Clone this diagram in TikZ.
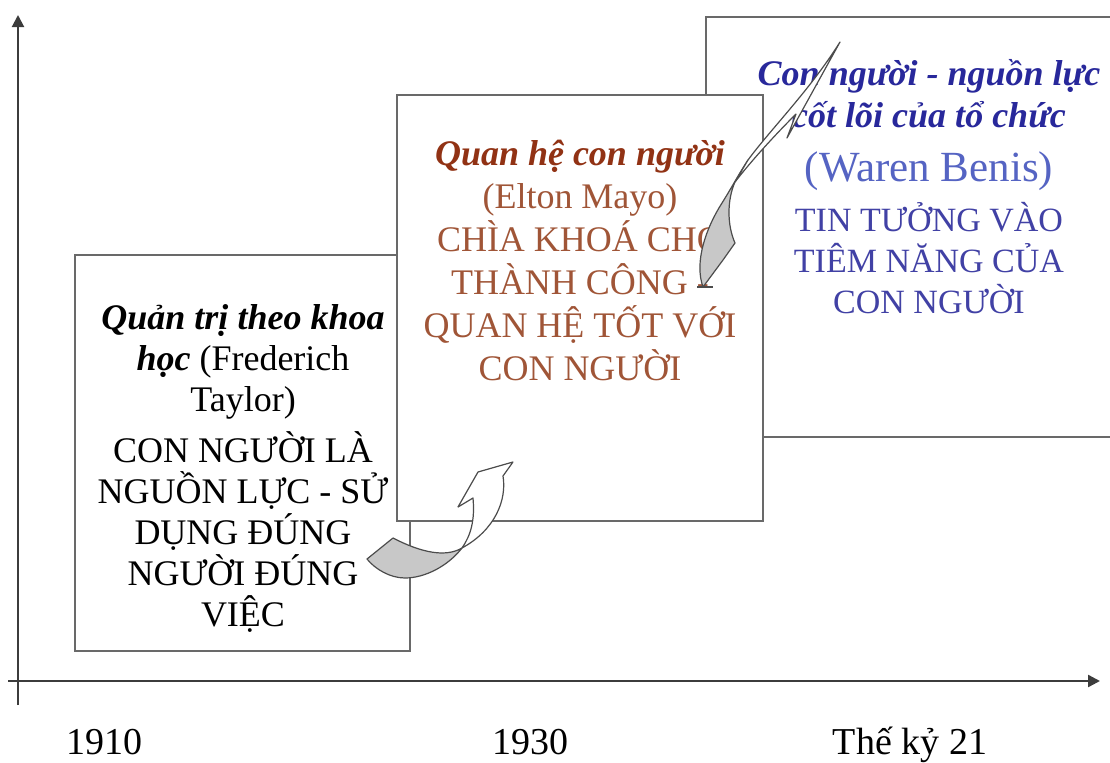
\documentclass[tikz,border=0pt]{standalone}
\usepackage{fontspec}
\setmainfont{Liberation Serif}
\usetikzlibrary{arrows.meta}
\definecolor{framegray}{RGB}{105,105,105}
\definecolor{axisgray}{RGB}{60,60,60}
\definecolor{twistgray}{RGB}{200,200,200}
\definecolor{mayotitle}{RGB}{145,50,20}
\definecolor{mayobody}{RGB}{160,85,55}
\definecolor{benistitle}{RGB}{40,40,155}
\definecolor{benisbody}{RGB}{65,65,165}
\definecolor{benisname}{RGB}{85,100,195}

\tikzset{
  period/.style={draw=framegray,line width=0.75pt,fill=white},
  idea/.style={align=center,inner sep=0pt,anchor=base},
  year/.style={inner sep=0pt,anchor=base,font=\fontsize{19}{22}\selectfont},
  twist/.style={draw=black!70,line width=0.6pt,line join=round},
}

\begin{document}
\begin{tikzpicture}[x=0.5pt,y=-0.5pt]
\useasboundingbox (0,0) rectangle (1110,762);
\clip (0,0) rectangle (1110,762);
% time axis
\coordinate (origin) at (18,705);
\coordinate (ytop) at (18,15);
\coordinate (xleft) at (8,681);
\coordinate (xright) at (1100,681);
\draw[-{Triangle[length=6pt,width=6pt]},axisgray,line width=1pt] (origin) -- (ytop);
\draw[-{Triangle[length=6pt,width=6pt]},axisgray,line width=1.2pt] (xleft) -- (xright);
% periods, the later one lies on top
\draw[period] (706,17) rectangle (1160,437);
\draw[period] (75,255) rectangle (410,651);
\draw[period] (397,95) rectangle (763,521);
% texts (anchored at the baseline of their last line)
\node[idea,font=\fontsize{18}{20.5}\selectfont] (taylor) at (243,626)
  {\textbf{\textit{Quản trị theo khoa}}\\\textbf{\textit{học}} (Frederich\\Taylor)\\[5pt]CON NGƯỜI LÀ\\NGUỒN LỰC - SỬ\\DỤNG ĐÚNG\\NGƯỜI ĐÚNG\\VIỆC};
\node[idea,font=\fontsize{18}{21.5}\selectfont,text=mayobody] (mayo) at (580,380)
  {\textcolor{mayotitle}{\textbf{\textit{Quan hệ con người}}}\\(Elton Mayo)\\CHÌA KHOÁ CHO\\THÀNH CÔNG -\\QUAN HỆ TỐT VỚI\\CON NGƯỜI};
\node[idea,font=\fontsize{17}{20.5}\selectfont,text=benisbody] (benis) at (929,313)
  {\textcolor{benistitle}{\fontsize{18}{21}\selectfont\textbf{\textit{Con người - nguồn lực}}}\\[0.5pt]
   \textcolor{benistitle}{\fontsize{18}{21}\selectfont\textbf{\textit{cốt lõi của tổ chức}}}\\[6.5pt]
   \textcolor{benisname}{\fontsize{21.5}{24}\selectfont(Waren Benis)}\\[4.5pt]
   TIN TƯỞNG VÀO\\TIÊM NĂNG CỦA\\CON NGƯỜI};
% years
\node[year] (y1910) at (105,754) {1910};
\node[year] (y1930) at (530,754) {1930};
\node[year] (y21) at (910,754) {Thế kỷ 21};
% twisted arrow, Taylor to Mayo
\filldraw[twist,fill=twistgray] (367,559) -- (393,538) .. controls (420,552) and (445,558) .. (462,548)
  .. controls (448,566) and (425,578) .. (405,578) .. controls (390,578) and (375,569) .. (367,559) -- cycle;
\filldraw[twist,fill=white] (462,548) .. controls (471,535) and (475,520) .. (473,498) -- (458,507)
  -- (478,472) -- (513,462) -- (503,476) .. controls (507,500) and (495,530) .. (462,548) -- cycle;
% twisted arrow, Mayo to Benis
\filldraw[twist,fill=twistgray] (703,287) .. controls (694,262) and (706,228) .. (722,203)
  .. controls (732,187) and (740,172) .. (748,160) -- (735,182)
  .. controls (727,200) and (727,225) .. (735,243) -- (723,260) -- cycle;
\draw[twist] (697,287) -- (713,287);
\filldraw[twist,fill=white] (748,160) .. controls (770,130) and (810,90) .. (840,42) -- (787,138)
  -- (796,114) .. controls (775,135) and (752,160) .. (735,182) -- cycle;
\end{tikzpicture}
\end{document}
